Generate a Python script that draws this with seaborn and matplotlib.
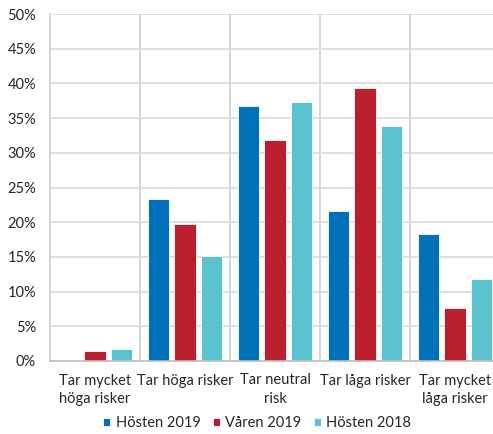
import numpy as np
import pandas as pd
import matplotlib
matplotlib.use("Agg")
import matplotlib.pyplot as plt
from matplotlib.ticker import FuncFormatter, MultipleLocator, FixedLocator
import seaborn as sns

categories = ["Tar mycket\nhöga risker", "Tar höga risker", "Tar neutral\nrisk",
              "Tar låga risker", "Tar mycket\nlåga risker"]
series_names = ["Hösten 2019", "Våren 2019", "Hösten 2018"]
hosten_2019 = [0.0, 23.3, 36.7, 21.6, 18.3]
varen_2019 = [1.5, 19.7, 31.8, 39.4, 7.6]
hosten_2018 = [1.7, 15.2, 37.3, 33.9, 11.8]
colors = ["#0070B8", "#BA1F2E", "#5BC2D0"]

rows = []
for name, vals in zip(series_names, [hosten_2019, varen_2019, hosten_2018]):
    for cat, v in zip(categories, vals):
        rows.append({"Kategori": cat, "Serie": name, "Andel": v})
df = pd.DataFrame(rows)

sns.set_theme(style="white")
plt.rcParams["font.family"] = ["Lato", "DejaVu Sans"]
text_color = "#262626"

fig = plt.figure(figsize=(4.93, 4.34), dpi=100)
ax = fig.add_axes([50 / 493, (434 - 361) / 434, 450 / 493, 347 / 434])

sns.barplot(data=df, x="Kategori", y="Andel", hue="Serie", order=categories,
            hue_order=series_names, palette=colors, width=0.88, gap=0.2,
            saturation=1, edgecolor="white", linewidth=0.6, ax=ax, legend=True)

ax.set_ylim(0, 50)
ax.set_xlim(-0.5, 4.5)
ax.yaxis.set_major_locator(MultipleLocator(5))
ax.yaxis.set_major_formatter(FuncFormatter(lambda v, p: f"{v:.0f}%"))
ax.xaxis.set_minor_locator(FixedLocator([0.5, 1.5, 2.5, 3.5]))
ax.grid(axis="y", which="major", color="#D9D9D9", linewidth=1.2)
ax.grid(axis="x", which="minor", color="#D0D0D0", linewidth=1.2)
ax.set_axisbelow(True)
for side in ["top", "right"]:
    ax.spines[side].set_visible(False)
ax.spines["left"].set_color("#D0D0D0")
ax.spines["left"].set_linewidth(1.2)
ax.spines["bottom"].set_color("#BFBFBF")
ax.spines["bottom"].set_linewidth(1.2)
ax.tick_params(axis="both", which="both", length=0)
ax.tick_params(axis="y", pad=10, labelsize=10.5, labelcolor=text_color)
ax.tick_params(axis="x", pad=9, labelsize=10.5, labelcolor=text_color)
for lbl in ax.get_xticklabels():
    lbl.set_linespacing(1.45)
ax.set_xlabel("")
ax.set_ylabel("")

handles, labels = ax.get_legend_handles_labels()
ax.legend(handles, labels, ncol=3, loc="center", bbox_to_anchor=(257 / 493, 1 - 423 / 434),
          bbox_transform=fig.transFigure, frameon=False, fontsize=10.5,
          handlelength=0.5, handleheight=0.5, handletextpad=0.35, columnspacing=0.85,
          labelcolor=text_color)

fig.savefig("out.png", dpi=100)
